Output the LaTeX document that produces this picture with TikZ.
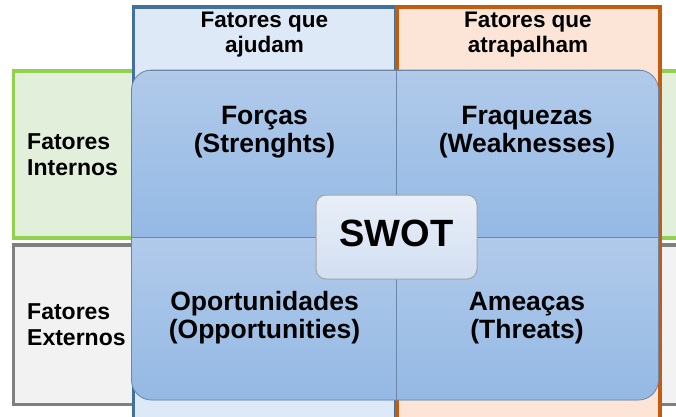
\documentclass[tikz,border=0pt]{standalone}
\usepackage{fontspec}
\setmainfont{Liberation Sans}
\definecolor{helpline}{HTML}{41719C}
\definecolor{helpfill}{HTML}{DDE9F6}
\definecolor{hurtline}{HTML}{C55A11}
\definecolor{hurtfill}{HTML}{FCE5D6}
\definecolor{inline}{HTML}{92D050}
\definecolor{infill}{HTML}{E2EFDA}
\definecolor{exline}{HTML}{7F7F7F}
\definecolor{exfill}{HTML}{F2F2F2}
\definecolor{quadline}{HTML}{6A86A8}
\definecolor{quadtop}{HTML}{B1CAEA}
\definecolor{quadbot}{HTML}{94B9E4}
\definecolor{swotline}{HTML}{A3A3A3}
\definecolor{swottop}{HTML}{E9EFF8}
\definecolor{swotbot}{HTML}{D2DFF2}
\tikzset{
    band/.style={line width=3.5pt, inner sep=0pt},
    quad/.style={draw=quadline, line width=0.8pt, top color=quadtop, bottom color=quadbot, inner sep=0pt},
    head/.style={align=center, font=\fontsize{22.5}{25}\selectfont\bfseries},
    side/.style={align=left, anchor=west, inner sep=0pt, font=\fontsize{23}{26}\selectfont\bfseries},
    cell/.style={align=center, font=\fontsize{26.5}{28}\selectfont\bfseries}
}

\begin{document}
\begin{tikzpicture}[x=1pt, y=-1pt]
    \clip (0, 0) rectangle (676, 416);
    \node [band, draw=inline, fill=infill, minimum width=700pt, minimum height=167pt] (IN) at (363.5, 154.5) {};
    \node [band, draw=exline, fill=exfill, minimum width=700pt, minimum height=159.5pt] (EX) at (363.5, 324.75) {};
    \node [band, draw=helpline, fill=helpfill, minimum width=262.5pt, minimum height=433pt] (HP) at (264.75, 223.5) {};
    \node [band, draw=hurtline, fill=hurtfill, minimum width=263pt, minimum height=433pt] (HT) at (528.5, 223.5) {};
    \begin{scope}
        \clip [rounded corners=20pt] (131.5, 70) rectangle (658.5, 400);
        \node [quad, minimum width=264.5pt, minimum height=167pt] (LT) at (263.75, 153.5) {};
        \node [quad, minimum width=262.5pt, minimum height=167pt] (RT) at (527.25, 153.5) {};
        \node [quad, minimum width=264.5pt, minimum height=163pt] (LB) at (263.75, 318.5) {};
        \node [quad, minimum width=262.5pt, minimum height=163pt] (RB) at (527.25, 318.5) {};
    \end{scope}
    \draw [quadline, line width=0.8pt, rounded corners=20pt] (131.5, 70) rectangle (658.5, 400);
    \node [head] (HL) at (264.5, 35) {Fatores que\\ajudam};
    \node [head] (HR) at (528, 35) {Fatores que\\atrapalham};
    \node [side] (SI) at (27, 155) {Fatores\\Internos};
    \node [side] (SE) at (27, 325) {Fatores\\Externos};
    \node [cell] (FS) at (264.5, 132) {Forças\\(Strenghts)};
    \node [cell] (FW) at (527, 132) {Fraquezas\\(Weaknesses)};
    \node [cell] (FO) at (264.5, 318) {Oportunidades\\(Opportunities)};
    \node [cell] (FT) at (527, 318) {Ameaças\\(Threats)};
    \node [draw=swotline, line width=1pt, rounded corners=10pt, top color=swottop, bottom color=swotbot,
        minimum width=161pt, minimum height=84pt, text depth=8pt,
        font=\fontsize{38}{40}\selectfont\bfseries] (SW) at (396.5, 237) {SWOT};
\end{tikzpicture}
\end{document}
